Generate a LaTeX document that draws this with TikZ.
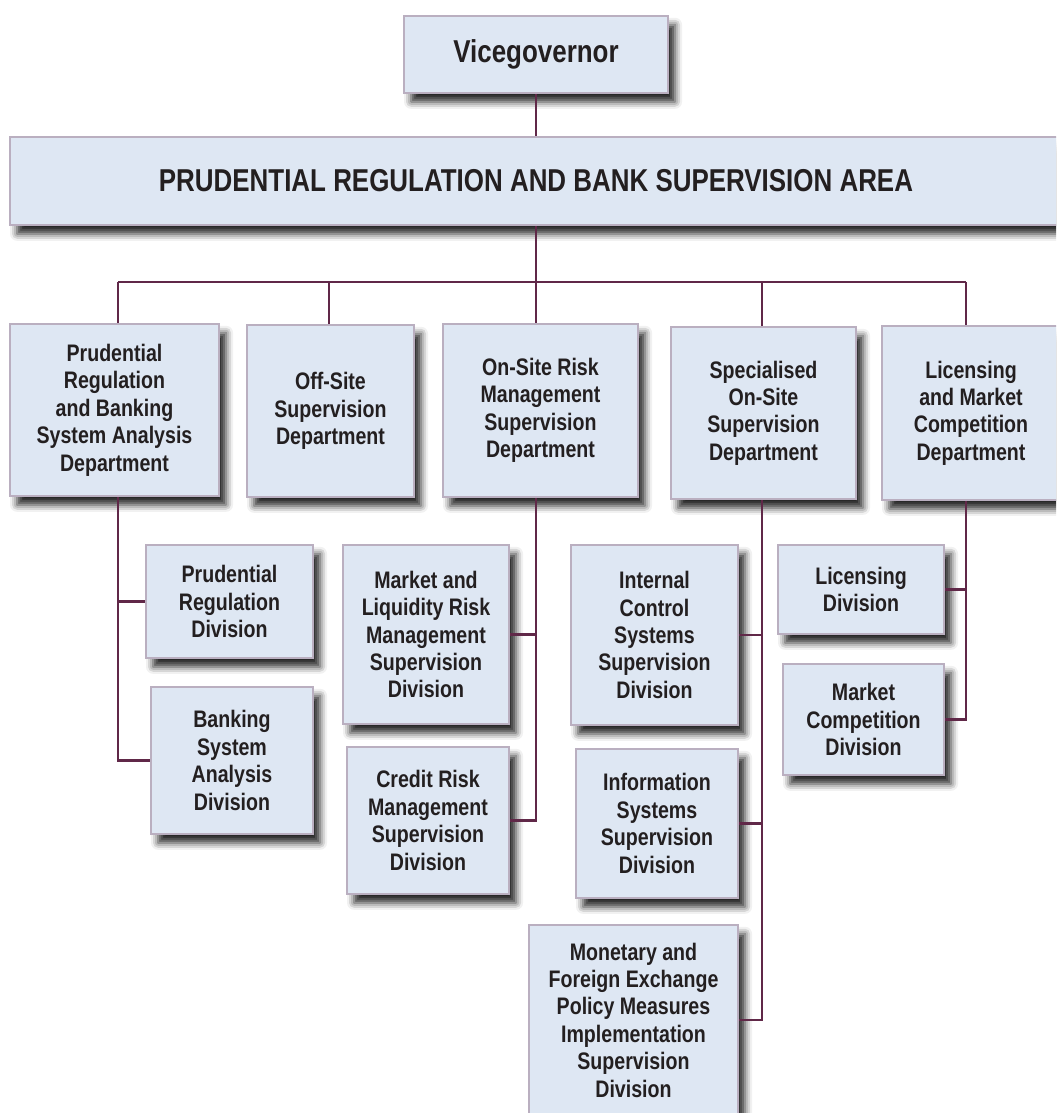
\documentclass[tikz,border=0pt]{standalone}
\usepackage{fontspec}
\setmainfont{Liberation Sans}[FakeStretch=0.82]
\usepackage{tikz}
\usetikzlibrary{shadows.blur}

\definecolor{boxfill}{RGB}{222,231,243}
\definecolor{boxline}{RGB}{186,175,192}
\definecolor{linkline}{RGB}{96,40,72}
\definecolor{labeltext}{RGB}{35,31,32}

\tikzset{
  unit/.style={draw=boxline, line width=1.2pt, fill=boxfill, inner sep=0pt,
    align=center, text=labeltext, font=\bfseries\fontsize{13.6}{15.6}\selectfont,
    blur shadow={shadow xshift=4pt, shadow yshift=-5pt,
      shadow blur radius=4pt, shadow opacity=85}},
  head/.style={unit, font=\bfseries\fontsize{18}{21}\selectfont},
  link/.style={draw=linkline, line width=1.2pt},
}

\begin{document}
\begin{tikzpicture}
    \useasboundingbox (0,0) rectangle (21.12,-22.26);
    \clip (0,0) rectangle (21.12,-22.26);

    % Top of the area
    \node[head, minimum width=5.28cm, minimum height=1.54cm] (vice) at (10.72,-1.09) {Vicegovernor};
    \node[head, minimum width=21.04cm, minimum height=1.76cm] (area) at (10.72,-3.62)
        {PRUDENTIAL REGULATION AND BANK SUPERVISION AREA};

    % Departments
    \node[unit, minimum width=4.18cm, minimum height=3.44cm] (prd) at (2.29,-8.20)
        {Prudential\\Regulation\\and Banking\\System Analysis\\Department};
    \node[unit, minimum width=3.34cm, minimum height=3.44cm] (off) at (6.61,-8.22)
        {Off-Site\\Supervision\\Department};
    \node[unit, minimum width=3.90cm, minimum height=3.46cm] (ons) at (10.81,-8.21)
        {On-Site Risk\\Management\\Supervision\\Department};
    \node[unit, minimum width=3.70cm, minimum height=3.44cm] (spc) at (15.27,-8.26)
        {Specialised\\On-Site\\Supervision\\Department};
    \node[unit, minimum width=3.56cm, minimum height=3.48cm] (lic) at (19.42,-8.26)
        {Licensing\\and Market\\Competition\\Department};

    % Divisions
    \node[unit, minimum width=3.34cm, minimum height=2.26cm] (prdreg) at (4.59,-12.03)
        {Prudential\\Regulation\\Division};
    \node[unit, minimum width=3.24cm, minimum height=2.94cm] (bsa) at (4.64,-15.21)
        {Banking\\System\\Analysis\\Division};
    \node[unit, minimum width=3.32cm, minimum height=3.58cm] (mlr) at (8.52,-12.69)
        {Market and\\Liquidity Risk\\Management\\Supervision\\Division};
    \node[unit, minimum width=3.24cm, minimum height=2.94cm] (crd) at (8.56,-16.41)
        {Credit Risk\\Management\\Supervision\\Division};
    \node[unit, minimum width=3.34cm, minimum height=3.60cm] (ics) at (13.09,-12.70)
        {Internal\\Control\\Systems\\Supervision\\Division};
    \node[unit, minimum width=3.24cm, minimum height=2.98cm] (iss) at (13.14,-16.47)
        {Information\\Systems\\Supervision\\Division};
    \node[unit, minimum width=4.18cm, minimum height=3.80cm] (mfx) at (12.67,-20.40)
        {Monetary and\\Foreign Exchange\\Policy Measures\\Implementation\\Supervision\\Division};
    \node[unit, minimum width=3.32cm, minimum height=1.78cm] (lcd) at (17.22,-11.79)
        {Licensing\\Division};
    \node[unit, minimum width=3.22cm, minimum height=2.22cm] (mcd) at (17.27,-14.39)
        {Market\\Competition\\Division};

    % Bus points
    \coordinate (c1) at (2.36,-5.64);
    \coordinate (c2) at (6.58,-5.64);
    \coordinate (c3) at (10.72,-5.64);
    \coordinate (c4) at (15.24,-5.64);
    \coordinate (c5) at (19.32,-5.64);

    % Connectors
    \draw[link] (vice.south) -- (area.north);
    \draw[link] (area.south) -- (c3);
    \draw[link] (c1) -- (c5);
    \foreach \c/\d in {c1/prd, c2/off, c3/ons, c4/spc, c5/lic}
        \draw[link] (\c) -- (\c |- \d.north);

    \draw[link] (c1 |- prd.south) |- (bsa.west);
    \draw[link] (c1 |- prdreg.west) -- (prdreg.west);
    \draw[link] (c3 |- ons.south) |- (crd.east);
    \draw[link] (mlr.east) -- (mlr.east -| c3);
    \draw[link] (c4 |- spc.south) |- (mfx.east);
    \draw[link] (ics.east) -- (ics.east -| c4);
    \draw[link] (iss.east) -- (iss.east -| c4);
    \draw[link] (c5 |- lic.south) |- (mcd.east);
    \draw[link] (lcd.east) -- (lcd.east -| c5);
\end{tikzpicture}
\end{document}
